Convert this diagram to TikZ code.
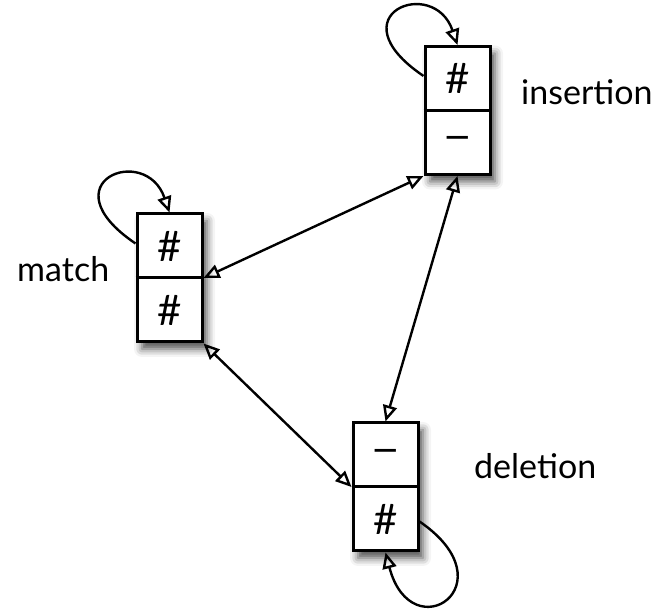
\documentclass[tikz,border=0pt]{standalone}
\usepackage{fontspec}
\setmainfont{Lato}
\newfontfamily\symfont{DejaVu Sans}
\usetikzlibrary{arrows.meta,shadows.blur}

\tikzset{
  statebox/.style={draw, line width=3pt, fill=white, minimum width=65pt,
    minimum height=128pt, inner sep=0pt,
    blur shadow={shadow xshift=5pt, shadow yshift=-7pt, shadow blur radius=8pt,
      shadow opacity=70}},
  cell/.style={inner sep=0pt},
  statelabel/.style={anchor=base west, inner sep=0pt},
  link/.style={line width=2.4pt, {Triangle[open, length=16pt, width=14pt, line width=2.4pt]}-{Triangle[open, length=16pt, width=14pt, line width=2.4pt]}},
  selfloop/.style={line width=2.4pt, -{Triangle[open, length=16pt, width=14pt, line width=2.4pt]}},
}
\newcommand{\cellhash}{\fontsize{42pt}{42pt}\selectfont\#}
\newcommand{\cellminus}{\fontsize{34pt}{34pt}\selectfont\symfont −}
\newcommand{\labfont}{\fontsize{34pt}{34pt}\selectfont}

\begin{document}
\begin{tikzpicture}[x=1pt, y=1pt]
  \useasboundingbox (0,0) rectangle (658,609);

  % three states
  \node[statebox] (ins) at (457.5,498.5) {};
  \node[statebox] (mat) at (169.5,331) {};
  \node[statebox] (del) at (385.5,122) {};

  \foreach \s in {ins,mat,del}
    \draw[line width=3pt] (\s.west) -- (\s.east);

  % cell contents
  \node[cell] (insTop) at ([yshift=32pt]ins.center) {\cellhash};
  \node[cell] (insBot) at ([yshift=-32pt]ins.center) {\cellminus};
  \node[cell] (matTop) at ([yshift=32pt]mat.center) {\cellhash};
  \node[cell] (matBot) at ([yshift=-32pt]mat.center) {\cellhash};
  \node[cell] (delTop) at ([yshift=32pt]del.center) {\cellminus};
  \node[cell] (delBot) at ([yshift=-32pt]del.center) {\cellhash};

  % labels
  \node[statelabel] (insLab) at (521,504) {\labfont insertion};
  \node[statelabel] (matLab) at (17,327) {\labfont match};
  \node[statelabel] (delLab) at (474,130) {\labfont deletion};

  % transitions between states
  \draw[link] (mat.east) -- (ins.south west);
  \draw[link] (ins.south) -- (del.north);
  \draw[link] (mat.south east) -- (del.west);

  % self loops
  \draw[selfloop] ([yshift=-31pt]ins.north west)
    .. controls ([shift={(-90pt,30pt)}]ins.north west)
           and ([shift={(10pt,70pt)}]ins.north west) .. (ins.north);
  \draw[selfloop] ([yshift=-31pt]mat.north west)
    .. controls ([shift={(-90pt,30pt)}]mat.north west)
           and ([shift={(10pt,70pt)}]mat.north west) .. (mat.north);
  \draw[selfloop] ([yshift=31pt]del.south east)
    .. controls ([shift={(92pt,-32pt)}]del.south east)
           and ([shift={(-8pt,-99pt)}]del.south east) .. (del.south);
\end{tikzpicture}
\end{document}
